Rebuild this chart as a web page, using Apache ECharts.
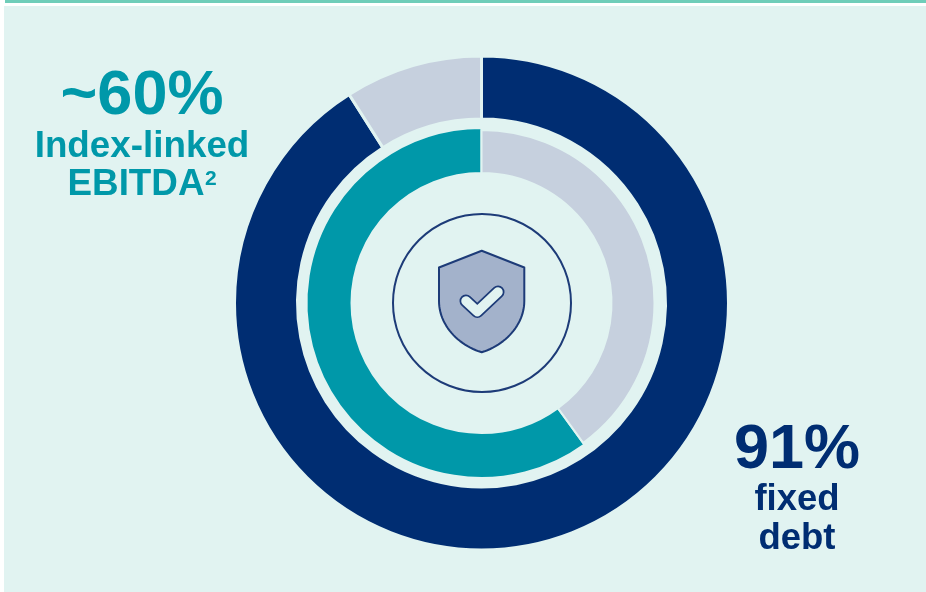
<!DOCTYPE html>
<html>
<head>
<meta charset="utf-8">
<style>html,body{margin:0;padding:0;background:#fff}#chart{width:926px;height:592px}</style>
<script src="https://cdn.jsdelivr.net/npm/echarts@6/dist/echarts.min.js"></script>
</head>
<body>
<div id="chart"></div>
<script>
// Debt mix (outer ring) and EBITDA mix (inner ring), in percent
const debtNames = ['Fixed debt', 'Other debt'];
const debtValues = [91, 9];
const ebitdaNames = ['Other EBITDA', 'Index-linked EBITDA'];
const ebitdaValues = [40, 60];

const NAVY = '#002D72';
const TEAL = '#0098A9';
const PALE = '#C6D0DE';
const PANEL = '#E1F3F1';
const RULE = '#6FCDB9';
const ICON_LINE = '#1D3B78';
const FONT = '"Liberation Sans", Arial, sans-serif';

const center = [481.5, 303];

// One ring of the donut; colours listed per slice, null leaves a slice unpainted
function ring(names, values, colors, radius, gap) {
  return {
    type: 'pie',
    center: center,
    radius: radius,
    startAngle: 90,
    clockwise: true,
    silent: true,
    label: { show: false },
    labelLine: { show: false },
    emphasis: { disabled: true },
    data: values.map((v, i) => ({
      name: names[i],
      value: v,
      itemStyle: colors[i]
        ? { color: colors[i], borderColor: PANEL, borderWidth: gap }
        : { color: 'transparent', borderWidth: 0 }
    }))
  };
}

// Points along a cubic curve, for the rounded lower edge of the shield
function cubic(p0, p1, p2, p3, steps) {
  const pts = [];
  for (let i = 0; i <= steps; i++) {
    const t = i / steps, u = 1 - t;
    pts.push([
      u * u * u * p0[0] + 3 * u * u * t * p1[0] + 3 * u * t * t * p2[0] + t * t * t * p3[0],
      u * u * u * p0[1] + 3 * u * u * t * p1[1] + 3 * u * t * t * p2[1] + t * t * t * p3[1]
    ]);
  }
  return pts;
}

const shieldOutline = [[481.7, 250.7], [524.3, 267.5]].concat(
  cubic([524.3, 301], [524.3, 325], [505, 345], [481.7, 352.3], 24),
  cubic([481.7, 352.3], [458, 345], [439, 325], [439, 301], 24),
  [[439, 267.5]]
);
const checkMark = [[466, 301], [477.3, 311.5], [498, 292]];

const chart = echarts.init(document.getElementById('chart'), null, { renderer: 'canvas' });
chart.setOption({
  animation: false,
  backgroundColor: 'transparent',
  series: [
    ring(debtNames, debtValues, [NAVY, PALE], [184, 247], 3),
    ring(ebitdaNames, ebitdaValues, [null, TEAL], [130, 175], 2),
    ring(ebitdaNames, ebitdaValues, [PALE, null], [130, 173], 2)
  ],
  graphic: [
    // Panel and top rule
    { type: 'rect', z: -2, silent: true, shape: { x: 4, y: 6, width: 922, height: 586 }, style: { fill: PANEL } },
    { type: 'rect', z: -2, silent: true, shape: { x: 5, y: 0, width: 921, height: 3 }, style: { fill: RULE } },

    // Shield badge in the middle of the donut
    { type: 'circle', silent: true, shape: { cx: 482, cy: 303, r: 89 }, style: { fill: 'transparent', stroke: ICON_LINE, lineWidth: 2 } },
    { type: 'polygon', silent: true, shape: { points: shieldOutline },
      style: { fill: '#A3B2CB', stroke: ICON_LINE, lineWidth: 2, lineJoin: 'round' } },
    { type: 'polyline', silent: true, shape: { points: checkMark },
      style: { fill: 'none', stroke: ICON_LINE, lineWidth: 13, lineCap: 'round', lineJoin: 'round' } },
    { type: 'polyline', silent: true, shape: { points: checkMark },
      style: { fill: 'none', stroke: PANEL, lineWidth: 9.5, lineCap: 'round', lineJoin: 'round' } },

    // Callout for the inner ring
    { type: 'text', silent: true, x: 142, y: 96.5,
      style: { text: '~60%', fill: TEAL, font: 'bold 63px ' + FONT, textAlign: 'center', textVerticalAlign: 'middle' } },
    { type: 'text', silent: true, x: 142, y: 147,
      style: { text: 'Index-linked', fill: TEAL, font: 'bold 36.8px ' + FONT, textAlign: 'center', textVerticalAlign: 'middle' } },
    { type: 'text', silent: true, x: 136, y: 185,
      style: { text: 'EBITDA', fill: TEAL, font: 'bold 36.8px ' + FONT, textAlign: 'center', textVerticalAlign: 'middle' } },
    { type: 'text', silent: true, x: 205, y: 179,
      style: { text: '2', fill: TEAL, font: 'bold 21px ' + FONT, textAlign: 'left', textVerticalAlign: 'middle' } },

    // Callout for the outer ring
    { type: 'text', silent: true, x: 797, y: 450.5,
      style: { text: '91%', fill: NAVY, font: 'bold 63px ' + FONT, textAlign: 'center', textVerticalAlign: 'middle' } },
    { type: 'text', silent: true, x: 797, y: 500,
      style: { text: 'fixed', fill: NAVY, font: 'bold 36.5px ' + FONT, textAlign: 'center', textVerticalAlign: 'middle' } },
    { type: 'text', silent: true, x: 797, y: 539,
      style: { text: 'debt', fill: NAVY, font: 'bold 36.5px ' + FONT, textAlign: 'center', textVerticalAlign: 'middle' } }
  ]
});
</script>
</body>
</html>
